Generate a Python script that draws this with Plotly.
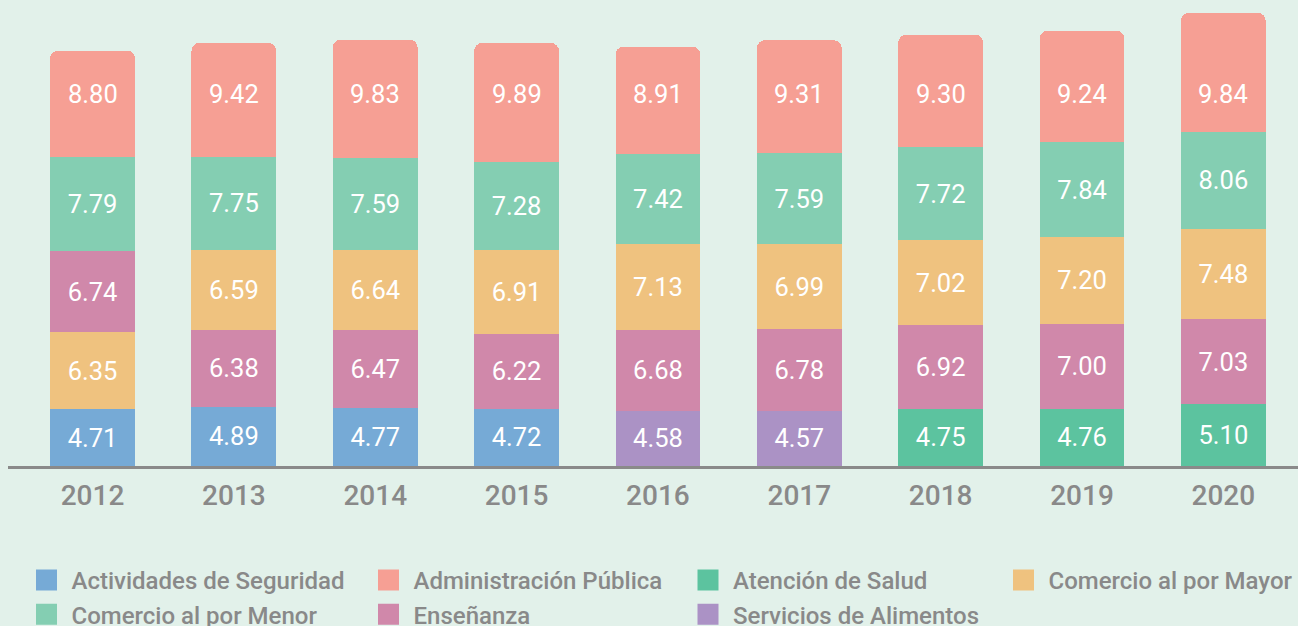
import plotly.graph_objects as go

years = ["2012", "2013", "2014", "2015", "2016", "2017", "2018", "2019", "2020"]

seguridad = [4.71, 4.89, 4.77, 4.72, None, None, None, None, None]
administracion = [8.80, 9.42, 9.83, 9.89, 8.91, 9.31, 9.30, 9.24, 9.84]
salud = [None, None, None, None, None, None, 4.75, 4.76, 5.10]
mayor = [6.35, 6.59, 6.64, 6.91, 7.13, 6.99, 7.02, 7.20, 7.48]
menor = [7.79, 7.75, 7.59, 7.28, 7.42, 7.59, 7.72, 7.84, 8.06]
ensenanza = [6.74, 6.38, 6.47, 6.22, 6.68, 6.78, 6.92, 7.00, 7.03]
alimentos = [None, None, None, None, 4.58, 4.57, None, None, None]

series = [
    ("Actividades de Seguridad", seguridad, "#76aad6", "legend"),
    ("Administración Pública", administracion, "#f69f94", "legend2"),
    ("Atención de Salud", salud, "#5cc39f", "legend3"),
    ("Comercio al por Mayor", mayor, "#efc27f", "legend4"),
    ("Comercio al por Menor", menor, "#84ceb2", "legend"),
    ("Enseñanza", ensenanza, "#d088aa", "legend2"),
    ("Servicios de Alimentos", alimentos, "#ab92c5", "legend3"),
]

FONT = "Roboto"
GREY = "#898989"
BG = "#e2f1ea"
LABEL_SIZE = 25.5

# each year's segments are stacked smallest first
stacks = []
for i in range(len(years)):
    seg = [(vals[i], color) for name, vals, color, lg in series if vals[i] is not None]
    stacks.append(sorted(seg))
n_ranks = max(len(s) for s in stacks)

fig = go.Figure()
for r in range(n_ranks):
    ys = [s[r][0] for s in stacks]
    cols = [s[r][1] for s in stacks]
    top = r == n_ranks - 1
    fig.add_trace(go.Bar(
        x=years, y=ys,
        marker=dict(color=cols, line=dict(width=0)),
        text=None if top else ["%.2f" % v for v in ys],
        textposition="inside", insidetextanchor="middle",
        textangle=0, constraintext="none",
        textfont=dict(family=FONT, size=LABEL_SIZE, color="white"),
        showlegend=False, hoverinfo="x+y",
    ))

# labels of the top segments sit on one common line
for i, s in enumerate(stacks):
    fig.add_annotation(x=i, y=0.8158, xref="x", yref="paper",
                       text="%.2f" % s[-1][0], showarrow=False,
                       yanchor="middle",
                       font=dict(family=FONT, size=LABEL_SIZE, color="white"))

# legend-only entries (no visible points)
for name, vals, color, lg in series:
    fig.add_trace(go.Scatter(
        x=[years[0]], y=[None], mode="markers", name=name,
        legend=lg, legendgroup=name, hoverinfo="skip",
        marker=dict(symbol="square", size=16, color=color,
                    line=dict(color=color, width=5)),
    ))

legend_style = dict(orientation="v", xref="container", yref="container",
                    xanchor="left", yanchor="top", bgcolor="rgba(0,0,0,0)",
                    itemwidth=40, tracegroupgap=2, traceorder="normal",
                    font=dict(family=FONT, size=24, color=GREY, weight=500))
legend_y = 1 - 558 / 626

fig.update_layout(
    width=1298, height=626,
    margin=dict(l=8, r=0, t=10, b=160, autoexpand=False),
    paper_bgcolor=BG, plot_bgcolor=BG,
    barmode="stack", bargap=0.4, barcornerradius=8,
    legend=dict(legend_style, x=21.5 / 1298, y=legend_y),
    legend2=dict(legend_style, x=363.5 / 1298, y=legend_y),
    legend3=dict(legend_style, x=683 / 1298, y=legend_y),
    legend4=dict(legend_style, x=998.5 / 1298, y=legend_y),
    font=dict(family=FONT, color=GREY),
)

fig.update_xaxes(type="category", categoryorder="array", categoryarray=years,
                 range=[-0.598, 8.528],
                 showline=True, linecolor="#8a8a8a", linewidth=3,
                 showgrid=False, zeroline=False, ticks="",
                 tickfont=dict(family=FONT, size=28, color=GREY, weight=500),
                 ticklabelstandoff=2)
fig.update_yaxes(range=[0, 37.75], visible=False, showgrid=False)

fig.write_html("out.html", config={"displayModeBar": False},
               post_script="document.body.style.margin='0';"
                           "document.body.style.overflow='hidden';")
